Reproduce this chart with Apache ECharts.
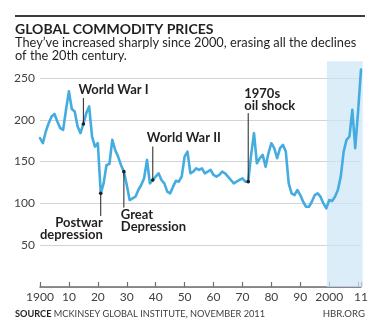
<!DOCTYPE html>
<html>
<head>
<meta charset="utf-8">
<script src="https://cdn.jsdelivr.net/npm/echarts@6/dist/echarts.min.js"></script>
<style>
  html, body { margin: 0; padding: 0; background: #fff; }
  #chart { width: 380px; height: 332px; }
</style>
</head>
<body>
<div id="chart"></div>
<script>
// Commodity price index, one value per year starting in 1900
const startYear = 1900;
const prices = [
  178, 172, 186, 196, 204, 207, 198, 190, 188, 212,   // 1900s
  234, 213, 210, 192, 184, 195, 208, 216, 180, 168,   // 1910s
  172, 112, 124, 146, 147, 176, 164, 156, 146, 138,   // 1920s
  122, 104, 106, 108, 116, 122, 130, 152, 124, 128,   // 1930s
  132, 136, 128, 124, 114, 112, 120, 127, 126, 132,   // 1940s
  156, 162, 136, 138, 142, 140, 142, 136, 138, 140,   // 1950s
  134, 132, 134, 138, 136, 132, 128, 124, 126, 128,   // 1960s
  130, 126, 126, 158, 184, 148, 154, 158, 144, 160,   // 1970s
  172, 166, 154, 166, 170, 162, 124, 112, 110, 116,   // 1980s
  110, 102, 96, 96, 102, 110, 112, 108, 100, 94,      // 1990s
  104, 103, 108, 116, 132, 162, 176, 180, 212, 166,   // 2000s
  210, 260                                            // 2010-11
];
const yTicks = [50, 100, 150, 200, 250];

// Annotated events
const eventNames = ['World War I', 'Postwar\ndepression', 'Great\nDepression', 'World War II', '1970s\noil shock'];
const eventYears = [1915, 1921, 1929, 1939, 1972];

// Highlighted period (years) and its top (index value)
const shadeFrom = 1999.2;
const shadeTo = 2011.6;
const shadeTop = 270;

const seriesData = prices.map((v, i) => [startYear + i, v]);

const chart = echarts.init(document.getElementById('chart'), null, { renderer: 'canvas' });

const FONT = 'Lato, "Open Sans", sans-serif';
const INK = '#231f20';

chart.setOption({
  animation: false,
  grid: { left: 40, right: 19, top: 78, bottom: 45 },
  xAxis: {
    type: 'value',
    min: 1900,
    max: 2011,
    interval: 10,
    axisLine: { show: true, lineStyle: { color: '#6d6e71', width: 1.5 } },
    axisTick: { show: true, inside: true, length: 5, lineStyle: { color: '#6d6e71', width: 1.2 } },
    splitLine: { show: false },
    axisLabel: {
      margin: 4,
      color: '#414042',
      fontFamily: FONT,
      fontSize: 12,
      showMinLabel: true,
      showMaxLabel: true,
      hideOverlap: false,
      formatter: function (v) {
        if (v === 1900 || v === 2000) return String(v);
        if (v === 2010) return '';
        return String(v % 100).padStart(2, '0');
      }
    }
  },
  yAxis: {
    type: 'value',
    min: 0,
    max: 250,
    interval: 50,
    axisLine: { show: false },
    axisTick: { show: false },
    splitLine: { show: true, lineStyle: { color: '#d1d3d4', width: 1 } },
    axisLabel: {
      margin: 5,
      color: '#414042',
      fontFamily: FONT,
      fontSize: 12,
      formatter: function (v) { return yTicks.indexOf(v) >= 0 ? String(v) : ''; }
    }
  },
  series: [
    {
      type: 'line',
      data: seriesData,
      clip: false,
      showSymbol: false,
      symbol: 'none',
      z: 3,
      lineStyle: { color: '#45ace0', width: 2.6, join: 'round', cap: 'round' }
    }
  ]
});

// Leader lines and labels for the events
const leaderEnds = [226, 85, 95, 168, 208];   // value where each leader line ends
const labelStyle = [
  { dx: -5, dy: -14, align: 'left' },
  { dx: 2, dy: 1, align: 'right' },
  { dx: -3, dy: 1, align: 'left' },
  { dx: -6, dy: -15, align: 'left' },
  { dx: -4, dy: -25, align: 'left' }
];

const elements = [];

// Shaded band, placed through the axes' scales
const s0 = chart.convertToPixel({ gridIndex: 0 }, [shadeFrom, 0]);
const s1 = chart.convertToPixel({ gridIndex: 0 }, [shadeTo, shadeTop]);
elements.push({
  type: 'rect', z: 1,
  shape: { x: s0[0], y: s1[1], width: s1[0] - s0[0], height: s0[1] - s1[1] },
  style: { fill: 'rgba(205, 230, 248, 0.7)' }
});

// Header rule, title and subtitle
elements.push({ type: 'rect', shape: { x: 15, y: 15, width: 350, height: 2 }, style: { fill: '#3c3c3c' } });
elements.push({ type: 'text', x: 15, y: 29.5, style: { text: 'GLOBAL COMMODITY PRICES', font: 'bold 14px ' + FONT, fill: INK, verticalAlign: 'middle' } });
elements.push({ type: 'text', x: 15, y: 36, style: { text: 'They\u2019ve increased sharply since 2000, erasing all the declines\nof the 20th century.', font: '12.8px ' + FONT, lineHeight: 13.5, fill: INK, verticalAlign: 'top' } });

// Footer
elements.push({ type: 'text', x: 15, y: 314, style: { text: '{b|SOURCE} MCKINSEY GLOBAL INSTITUTE, NOVEMBER 2011', font: '9.2px ' + FONT, fill: '#414042', verticalAlign: 'middle', rich: { b: { font: 'bold 9.2px ' + FONT, fill: '#231f20' } } } });
elements.push({ type: 'text', x: 365, y: 314, style: { text: 'HBR.ORG', font: '9.6px ' + FONT, fill: '#414042', align: 'right', verticalAlign: 'middle' } });

eventYears.forEach(function (yr, i) {
  const val = prices[yr - startYear];
  const p = chart.convertToPixel({ gridIndex: 0 }, [yr, val]);
  const q = chart.convertToPixel({ gridIndex: 0 }, [yr, leaderEnds[i]]);
  elements.push({ type: 'line', z: 10, shape: { x1: p[0], y1: p[1], x2: q[0], y2: q[1] }, style: { stroke: '#231f20', lineWidth: 1 } });
  elements.push({ type: 'circle', z: 11, shape: { cx: p[0], cy: p[1], r: 1.8 }, style: { fill: '#231f20' } });
  const s = labelStyle[i];
  elements.push({
    type: 'text', z: 12,
    x: q[0] + s.dx, y: q[1] + s.dy,
    style: { text: eventNames[i], font: 'bold 13px ' + FONT, lineHeight: 12, fill: INK, align: s.align, verticalAlign: 'top' }
  });
});

chart.setOption({ graphic: { elements: elements } });
</script>
</body>
</html>
